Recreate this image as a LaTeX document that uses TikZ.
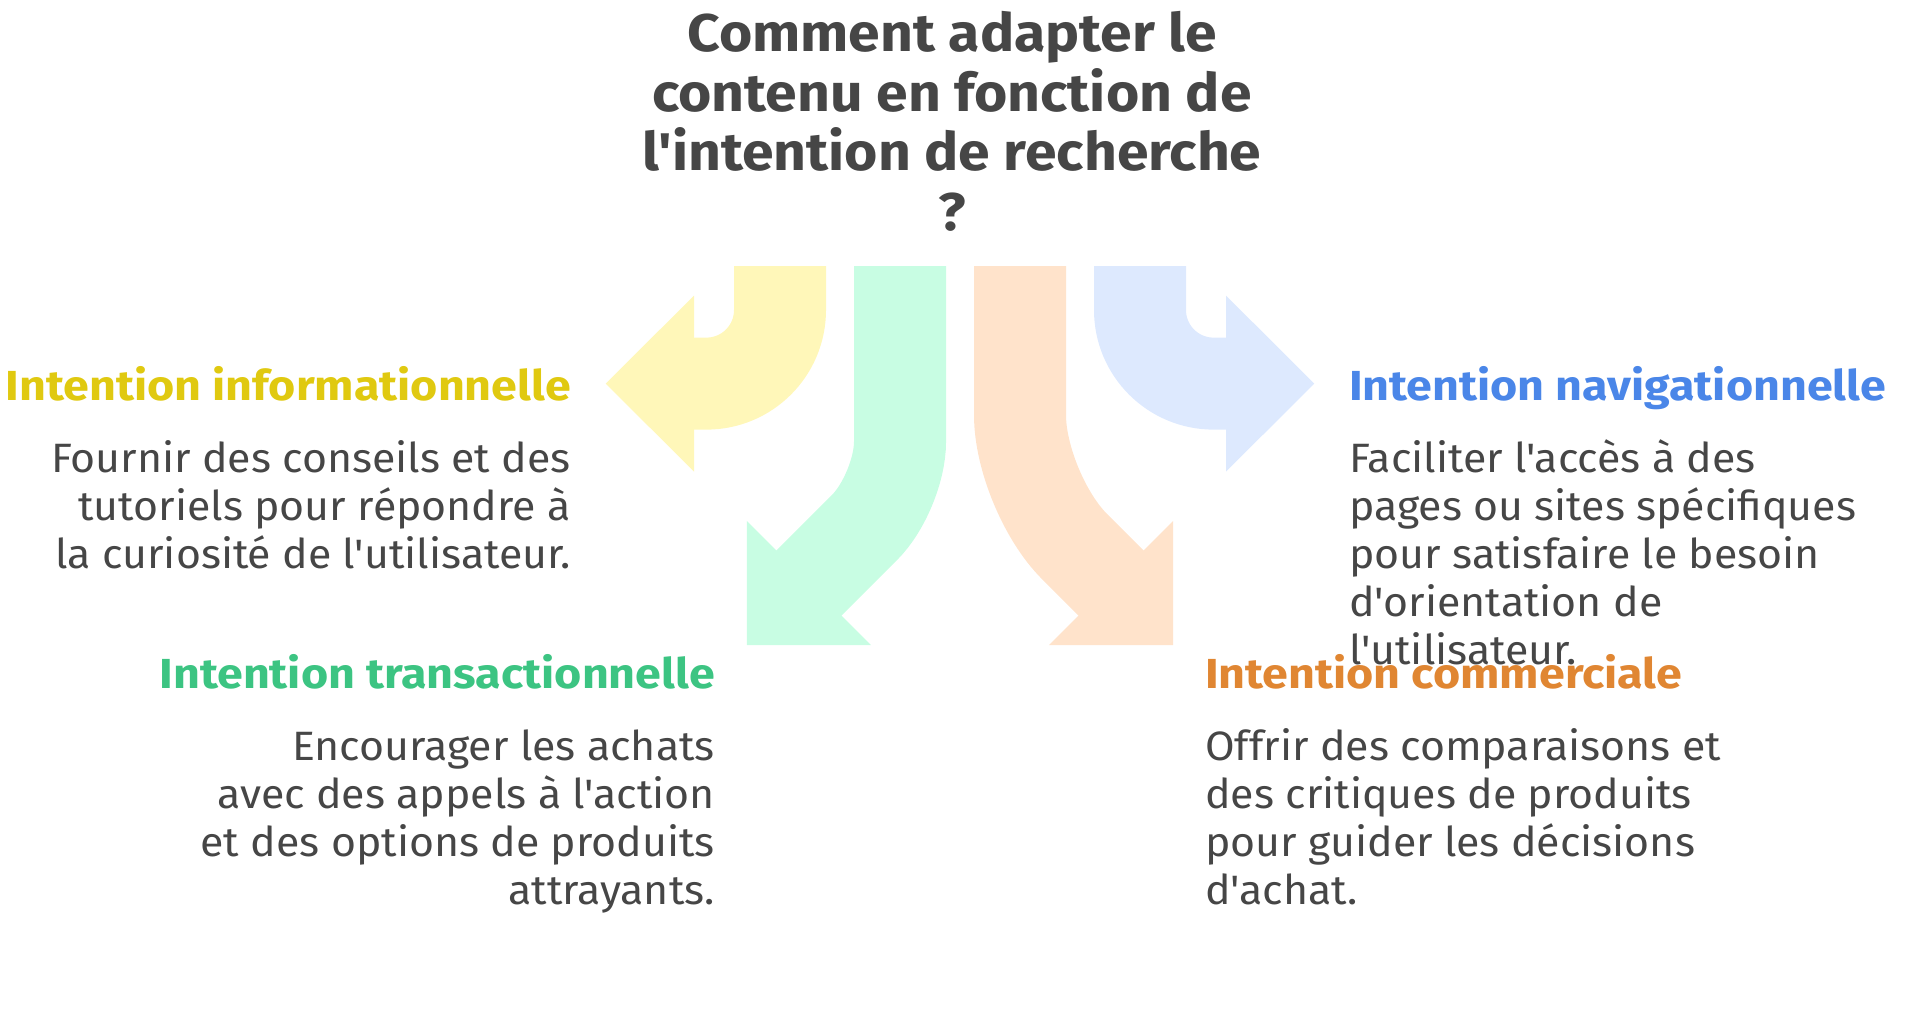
\documentclass[tikz,border=0pt]{standalone}
\usepackage{fontspec}
\setmainfont{Fira Sans}[Ligatures=TeXOff,FakeStretch=1.045]
\newfontfamily\policetitre{Fira Sans}[Ligatures=TeXOff,FakeStretch=1.077]
\newfontfamily\policeentete{Fira Sans}[Ligatures=TeXOff,FakeStretch=1.11]
\usepackage{xcolor}
\usepackage{tikz}

\definecolor{gristexte}{HTML}{464646}
\definecolor{jauneinfo}{HTML}{E0C910}
\definecolor{bleunav}{HTML}{4A86E8}
\definecolor{verttrans}{HTML}{3CC482}
\definecolor{orangecom}{HTML}{E08632}
\definecolor{fondjaune}{HTML}{FFF7B9}
\definecolor{fondvert}{HTML}{C8FDE3}
\definecolor{fondorange}{HTML}{FFE3CB}
\definecolor{fondbleu}{HTML}{DDE9FE}

\tikzset{
  titre/.style={font=\policetitre\fontsize{53}{59.5}\selectfont\bfseries, text=gristexte, align=center, inner sep=0pt},
  entete/.style={font=\policeentete\fontsize{42}{48}\selectfont\bfseries, inner sep=0pt},
  corps/.style={font=\fontsize{41}{48}\selectfont, text=gristexte, inner sep=0pt},
  fleche/.style={line width=92pt}
}

\begin{document}
\begin{tikzpicture}[x=1pt,y=-1pt]
    \useasboundingbox (0,0) rectangle (1922,1010);
    % les quatre fleches
    \draw[fleche,fondjaune,rounded corners=73.6pt](780,266)--(780,383.6)--(690,383.6);
    \fill[fondjaune](694,295.6)--(605.7,383.6)--(694,471.6)--cycle;
    \draw[fleche,fondbleu,rounded corners=73.6pt](1140,266)--(1140,383.6)--(1230,383.6);
    \fill[fondbleu](1226,295.6)--(1314.3,383.6)--(1226,471.6)--cycle;
    \draw[fleche,fondvert,rounded corners=50pt](900,266)--(900,492)--(805,587);
    \fill[fondvert](746.8,520.8)--(871.2,645.2)--(746.8,645.2)--cycle;
    \draw[fleche,fondorange,rounded corners=77pt](1020,266)--(1020,492)--(1115,587);
    \fill[fondorange](1173.2,520.8)--(1048.8,645.2)--(1173.2,645.2)--cycle;

    % les textes (ancre sur la derniere ligne)
    \node[titre,anchor=base] (titre) at (952,230) {Comment adapter le\\contenu en fonction de\\l'intention de recherche\\?};

    \node[entete,anchor=base east,text=jauneinfo] (info) at (571,400) {Intention informationnelle};
    \node[corps,anchor=base east,align=right] (infotexte) at (571,568) {Fournir des conseils et des\\tutoriels pour répondre à\\la curiosité de l'utilisateur.};

    \node[entete,anchor=base west,text=bleunav] (nav) at (1349,400) {Intention navigationnelle};
    \node[corps,anchor=base west,align=left] (navtexte) at (1349,664) {Faciliter l'accès à des\\pages ou sites spécifiques\\pour satisfaire le besoin\\d'orientation de\\l'utilisateur.};

    \node[entete,anchor=base east,text=verttrans] (trans) at (715,688) {Intention transactionnelle};
    \node[corps,anchor=base east,align=right] (transtexte) at (715,904) {Encourager les achats\\avec des appels à l'action\\et des options de produits\\attrayants.};

    \node[entete,anchor=base west,text=orangecom] (com) at (1205,688) {Intention commerciale};
    \node[corps,anchor=base west,align=left] (comtexte) at (1205,904) {Offrir des comparaisons et\\des critiques de produits\\pour guider les décisions\\d'achat.};
\end{tikzpicture}
\end{document}
